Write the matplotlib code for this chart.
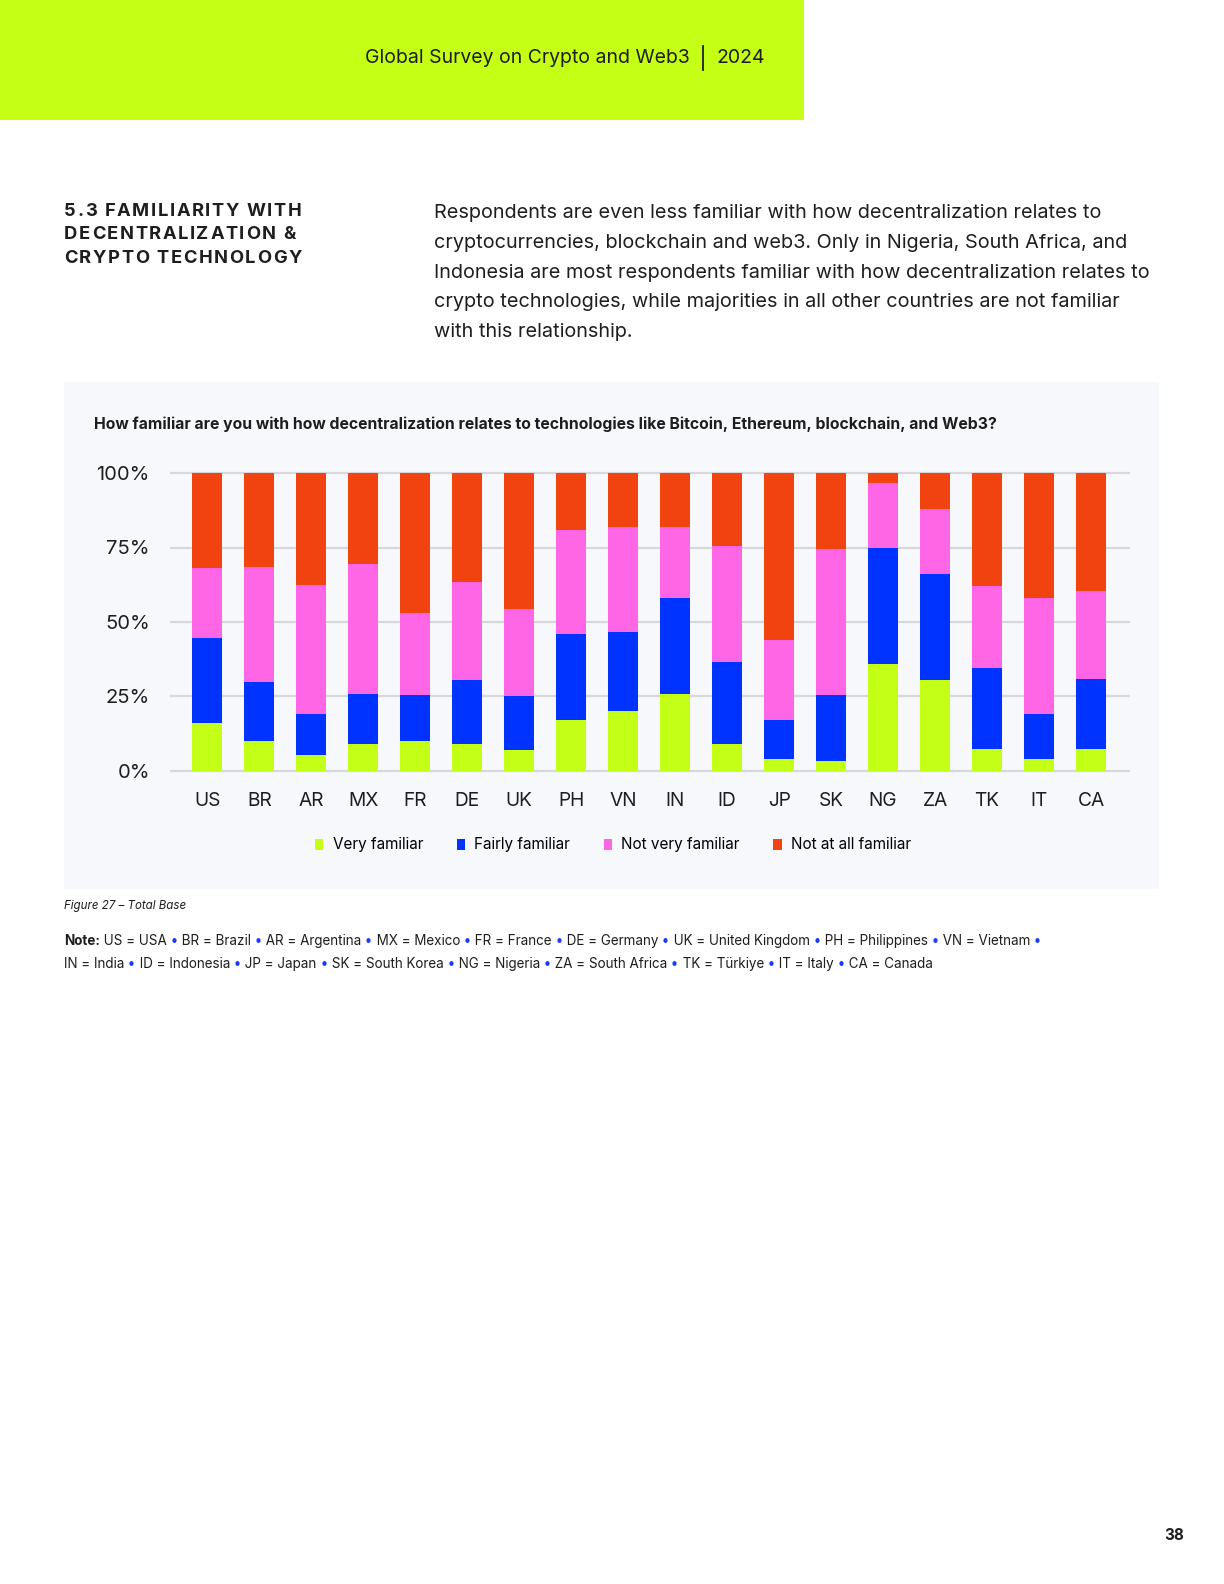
import matplotlib
matplotlib.use("Agg")
import matplotlib.pyplot as plt
from matplotlib.patches import Rectangle, Patch
from matplotlib.lines import Line2D
import numpy as np

# data (percent of respondents)
countries = ['US', 'BR', 'AR', 'MX', 'FR', 'DE', 'UK', 'PH', 'VN',
             'IN', 'ID', 'JP', 'SK', 'NG', 'ZA', 'TK', 'IT', 'CA']
very_familiar = [16, 10, 5.5, 9, 10, 9, 7, 17, 20, 26, 9, 4, 3.5, 36, 30.5, 7.5, 4, 7.5]
fairly_familiar = [28.5, 20, 13.5, 17, 15.5, 21.5, 18, 29, 26.5, 32, 27.5, 13, 22, 39, 35.5, 27, 15, 23.5]
not_very_familiar = [23.5, 38.5, 43.5, 43.5, 27.5, 33, 29.5, 35, 35.5, 24, 39, 27, 49, 21.5, 22, 27.5, 39, 29.5]
not_at_all_familiar = [32, 31.5, 37.5, 30.5, 47, 36.5, 45.5, 19, 18, 18, 24.5, 56, 25.5, 3.5, 12, 38, 42, 39.5]
series_names = ['Very familiar', 'Fairly familiar', 'Not very familiar', 'Not at all familiar']
yticks = [0, 25, 50, 75, 100]
ytick_labels = ['0%', '25%', '50%', '75%', '100%']

colors = ['#C3FF17', '#0033FF', '#FF66E6', '#F0430F']
lime = '#C5FF16'
dark = '#1E1E1E'
FONT = 'Inter'

W, H = 1224, 1584
fig = plt.figure(figsize=(W / 100, H / 100), dpi=100)
fig.patch.set_facecolor('white')


def fx(x):
    return x / W


def fy(y):
    return 1 - y / H


def ftext(x, y, s, **kw):
    kw.setdefault('family', FONT)
    kw.setdefault('color', dark)
    return fig.text(fx(x), fy(y), s, **kw)


renderer = fig.canvas.get_renderer()


def text_width(s, **kw):
    # advance width incl. spaces: measure between guard chars
    t1 = fig.text(0, 0, 'a' + s + 'a', **kw)
    t2 = fig.text(0, 0, 'aa', **kw)
    w = t1.get_window_extent(renderer).width - t2.get_window_extent(renderer).width
    t1.remove()
    t2.remove()
    return w


def runs(x, y, parts, size):
    for s, color, weight in parts:
        kw = dict(family=FONT, fontsize=size, fontweight=weight)
        fig.text(fx(x), fy(y), s, color=color, va='center', ha='left', **kw)
        x += text_width(s, **kw)


def tracked(x, y, s, tracking, **kw):
    kw.setdefault('family', FONT)
    for ch in s:
        adv = text_width(ch, **kw)
        if ch != ' ':
            fig.text(fx(x + adv / 2), fy(y), ch, ha='center', va='center', color=dark, **kw)
        x += adv + tracking


# header band
fig.patches.append(Rectangle((0, fy(120)), fx(804), 120 / H, transform=fig.transFigure,
                             facecolor=lime, edgecolor='none', zorder=-2))
ftext(690, 58, 'Global Survey on Crypto and Web3', ha='right', va='center', fontsize=14)
fig.add_artist(Line2D([fx(703), fx(703)], [fy(46), fy(70)], color=dark, lw=1.3,
                      transform=fig.transFigure))
ftext(716, 58, '2024', ha='left', va='center', fontsize=14)

# section heading (letter-spaced caps)
for i, line in enumerate(['5.3 FAMILIARITY WITH', 'DECENTRALIZATION &', 'CRYPTO TECHNOLOGY']):
    tracked(64, 211 + i * 23.8, line, 1.6, fontsize=13.2, fontweight='bold')

body = ['Respondents are even less familiar with how decentralization relates to',
        'cryptocurrencies, blockchain and web3. Only in Nigeria, South Africa, and',
        'Indonesia are most respondents familiar with how decentralization relates to',
        'crypto technologies, while majorities in all other countries are not familiar',
        'with this relationship.']
for i, line in enumerate(body):
    ftext(434, 213 + i * 29.8, line, fontsize=14.3, va='center')

# chart panel
fig.patches.append(Rectangle((fx(64), fy(889)), (1159 - 64) / W, (889 - 382) / H,
                             transform=fig.transFigure, facecolor='#F7F8FC',
                             edgecolor='none', zorder=-2))
ftext(94, 424, 'How familiar are you with how decentralization relates to technologies '
      'like Bitcoin, Ethereum, blockchain, and Web3?', fontsize=11.35, fontweight='bold',
      va='center')

# axes: 0% at y=771, 100% at y=473
per = (771 - 473) / 100
y_lo, y_hi = -1.5, 101.5
ax_bottom = 771 + 1.5 * per
ax_top = 473 - 1.5 * per
ax = fig.add_axes([fx(170), fy(ax_bottom), (1130 - 170) / W, (ax_bottom - ax_top) / H])
ax.set_facecolor('none')
ax.set_zorder(2)

x = np.arange(len(countries))
series = [very_familiar, fairly_familiar, not_very_familiar, not_at_all_familiar]
bottom = np.zeros(len(countries))
for vals, c, name in zip(series, colors, series_names):
    ax.bar(x, vals, bottom=bottom, width=0.58, color=c, label=name, zorder=3)
    bottom += np.array(vals)

ax.set_xlim(-0.72, len(countries) - 1 + 0.75)
ax.set_ylim(y_lo, y_hi)
ax.set_yticks(yticks)
ax.set_yticklabels(ytick_labels)
ax.set_xticks(x)
ax.set_xticklabels(countries)
ax.grid(axis='y', color='#D8D8DA', lw=1.6, zorder=0)
ax.set_axisbelow(True)
ax.tick_params(length=0, labelcolor=dark)
ax.tick_params(axis='y', pad=14.5, labelsize=14.5)
ax.tick_params(axis='x', pad=12, labelsize=13.8)
for lab in ax.get_xticklabels() + ax.get_yticklabels():
    lab.set_family(FONT)
for s in ax.spines.values():
    s.set_visible(False)

handles = [Patch(facecolor=c, edgecolor='none') for c in colors]
fig.legend(handles, series_names, loc='center', bbox_to_anchor=(fx(613), fy(845)),
           ncol=4, frameon=False, handlelength=0.55, handleheight=0.75,
           handletextpad=0.6, columnspacing=2.2,
           prop={'family': FONT, 'size': 11})

# caption and note
ftext(64, 906, 'Figure 27 \u2013 Total Base', fontsize=8.3, style='italic', va='center')
blue = '#1A3CFF'
B = (' \u2022', blue, 'normal')


def d(s, w='normal'):
    return (s, dark, w)


note1 = [d('Note:', 'bold'), d(' US = USA'), B, d(' BR = Brazil'), B, d(' AR = Argentina'), B,
         d(' MX = Mexico'), B, d(' FR = France'), B, d(' DE = Germany'), B,
         d(' UK = United Kingdom'), B, d(' PH = Philippines'), B, d(' VN = Vietnam'), B]
note2 = [d('IN = India'), B, d(' ID = Indonesia'), B, d(' JP = Japan'), B,
         d(' SK = South Korea'), B, d(' NG = Nigeria'), B, d(' ZA = South Africa'), B,
         d(' TK = T\u00fcrkiye'), B, d(' IT = Italy'), B, d(' CA = Canada')]
runs(64, 941, note1, 9.7)
runs(64, 964, note2, 9.7)

# page number
ftext(1174, 1536, '38', fontsize=11, fontweight='bold', ha='center', va='center')

fig.savefig('out.png', dpi=100, facecolor='white')
